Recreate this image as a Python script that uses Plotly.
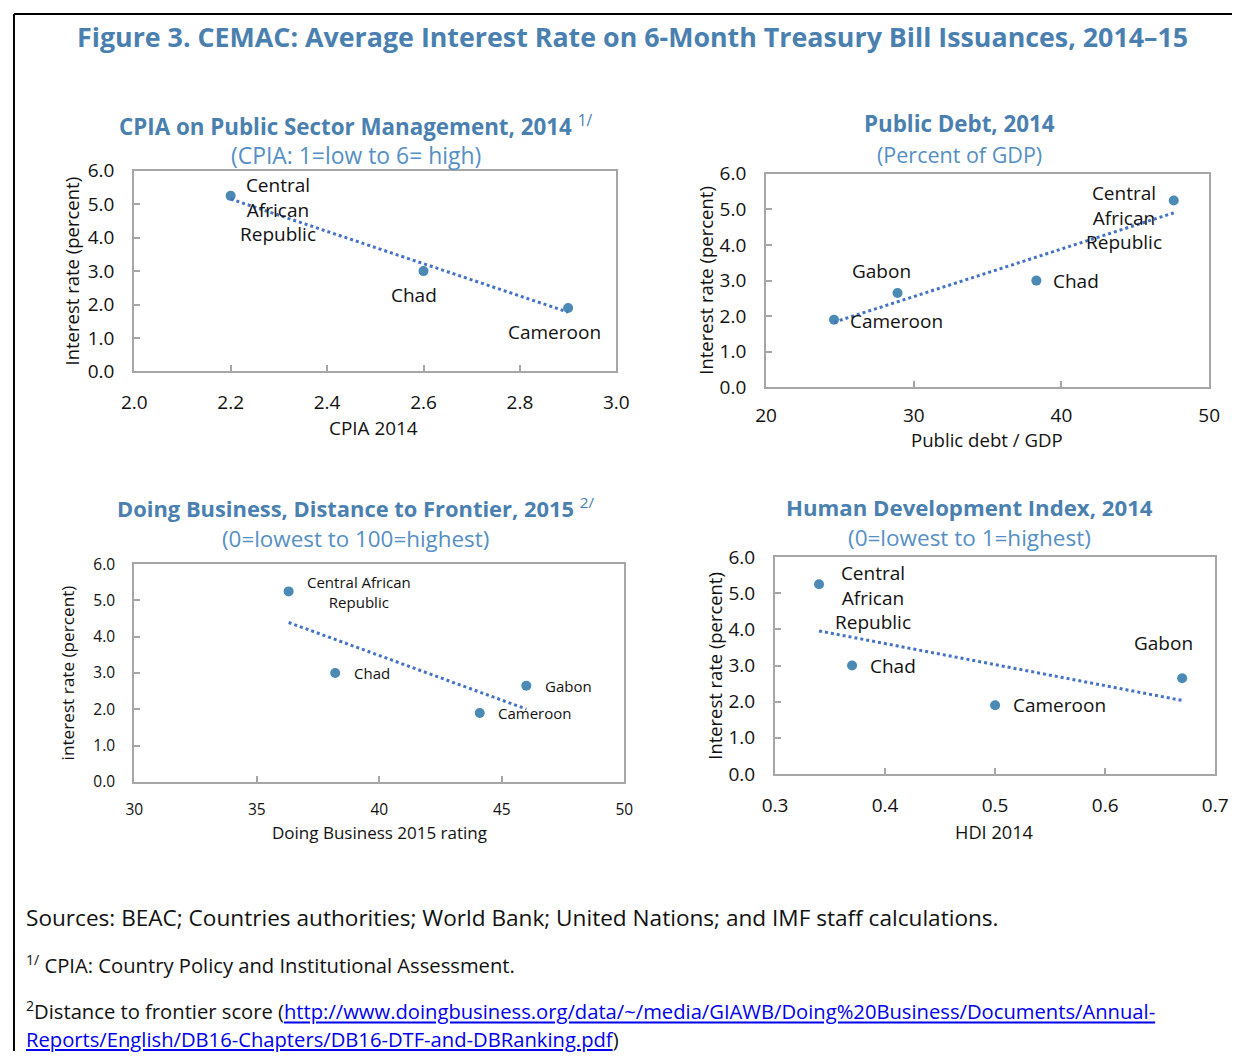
import numpy as np
import plotly.graph_objects as go

W, H = 1245, 1064

# ---------------- data ----------------
cpia_names = ["Central<br>African<br>Republic", "Chad", "Cameroon"]
cpia_x = [2.2, 2.6, 2.9]
cpia_y = [5.25, 3.0, 1.9]

debt_names = ["Cameroon", "Gabon", "Chad", "Central<br>African<br>Republic"]
debt_x = [24.6, 28.9, 38.3, 47.6]
debt_y = [1.9, 2.65, 3.0, 5.25]

db_names = ["Central African<br>Republic", "Chad", "Cameroon", "Gabon"]
db_x = [36.3, 38.2, 44.1, 46.0]
db_y = [5.25, 3.0, 1.9, 2.65]

hdi_names = ["Central<br>African<br>Republic", "Chad", "Cameroon", "Gabon"]
hdi_x = [0.34, 0.37, 0.50, 0.67]
hdi_y = [5.25, 3.0, 1.9, 2.65]

y_ticks = [0.0, 1.0, 2.0, 3.0, 4.0, 5.0, 6.0]
cpia_ticks = [2.0, 2.2, 2.4, 2.6, 2.8, 3.0]
debt_ticks = [20, 30, 40, 50]
db_ticks = [30, 35, 40, 45, 50]
hdi_ticks = [0.3, 0.4, 0.5, 0.6, 0.7]

# ---------------- style ----------------
FONT = "Open Sans"
TITLE_C = "#4a80b0"
SUB_C = "#558fc4"
DOT_C = "#4a8ab5"
TREND_C = "#4472c4"
AX_C = "#a6a6a6"
TXT_C = "#111111"

# layout positions are given in target-picture pixels, converted to figure pixels
SX, OX = 0.981, 11.5
SY, OY = 0.977, 12.0


def px(r):
    return min(max(((r - OX) / SX) / W, 0.0), 1.0)


def py(r):
    return min(max(1 - ((r - OY) / SY) / H, 0.0), 1.0)


def k(v):
    return v / SY


panels = [
    dict(x=cpia_x, y=cpia_y, names=cpia_names, ticks=cpia_ticks, xfmt=".1f",
         box=(133, 616, 170, 371), tickfs=19, labfs=19, xfs=18.9, yfs=18.5, tfs=22.35, sfs=22.9, stand=13,
         title="CPIA on Public Sector Management, 2014", sup=" <sup>1/</sup>", sub="(CPIA: 1=low to 6= high)",
         tpos=(355, 125), spos=(355, 155), xt=("CPIA 2014", 373, 428), yt=("Interest rate (percent)", 70),
         shifts=[(46, -13, "center"), (-9, -23, "center"), (-13, -24, "center")]),
    dict(x=debt_x, y=debt_y, names=debt_names, ticks=debt_ticks, xfmt="d",
         box=(766, 1210, 173, 387), tickfs=19, labfs=19, xfs=18.6, yfs=18.5, tfs=22.35, sfs=21.5, stand=10,
         title="Public Debt, 2014", sup="", sub="(Percent of GDP)",
         tpos=(960, 123), spos=(960, 154), xt=("Public debt / GDP", 987, 439), yt=("Interest rate (percent)", 705),
         shifts=[(14, -1, "left"), (-16, 22, "center"), (14, 0, "left"), (-49, -17, "center")]),
    dict(x=db_x, y=db_y, names=db_names, ticks=db_ticks, xfmt="d",
         box=(133, 624, 564, 782), tickfs=15.5, labfs=15, xfs=17, yfs=17.2, tfs=21.9, sfs=22.4, stand=13,
         title="Doing Business, Distance to Frontier, 2015", sup=" <sup>2/</sup>", sub="(0=lowest to 100=highest)",
         tpos=(355, 507), spos=(355, 538), xt=("Doing Business 2015 rating", 379, 833), yt=("interest rate (percent)", 66),
         shifts=[(69, -1, "center"), (16, 0, "left"), (16, 0, "left"), (16, 0, "left")]),
    dict(x=hdi_x, y=hdi_y, names=hdi_names, ticks=hdi_ticks, xfmt=".1f",
         box=(775, 1216, 557, 774), tickfs=19, labfs=19, xfs=18.2, yfs=18.4, tfs=22.2, sfs=22.5, stand=13,
         title="Human Development Index, 2014", sup="", sub="(0=lowest to 1=highest)",
         tpos=(970, 507), spos=(970, 537), xt=("HDI 2014", 995, 832), yt=("Interest rate (percent)", 714),
         shifts=[(53, -13, "center"), (16, 0, "left"), (16, 0, "left"), (-18, 34, "center")]),
]

fig = go.Figure()
annotations = []
layout_axes = {}

for i, p in enumerate(panels, start=1):
    xa = "x" if i == 1 else f"x{i}"
    ya = "y" if i == 1 else f"y{i}"
    xs = np.array(p["x"], dtype=float)
    ys = np.array(p["y"], dtype=float)
    # points
    fig.add_trace(go.Scatter(x=xs, y=ys, mode="markers", xaxis=xa, yaxis=ya,
                             marker=dict(color=DOT_C, size=10), showlegend=False, hoverinfo="skip"))
    # linear trend line
    kk, bb = np.polyfit(xs, ys, 1)
    tx = np.array([xs.min(), xs.max()])
    fig.add_trace(go.Scatter(x=tx, y=kk * tx + bb, mode="lines", xaxis=xa, yaxis=ya,
                             line=dict(color=TREND_C, width=3, dash="dot"), showlegend=False, hoverinfo="skip"))
    # point labels
    for n, xv, yv, (dx, dy, anc) in zip(p["names"], p["x"], p["y"], p["shifts"]):
        annotations.append(dict(x=xv, y=yv, xref=xa, yref=ya, text=n, showarrow=False,
                                xshift=k(dx), yshift=k(dy), xanchor=anc, yanchor="middle", align="center",
                                font=dict(family=FONT, size=p["labfs"], color=TXT_C)))
    x0, x1, y0, y1 = p["box"]
    axcommon = dict(showgrid=False, zeroline=False, showline=True, mirror=True, linecolor=AX_C,
                    linewidth=2, ticks="inside", ticklen=6, tickcolor=AX_C, tickwidth=1.5,
                    fixedrange=True)
    layout_axes["xaxis" if i == 1 else f"xaxis{i}"] = dict(
        axcommon, domain=[px(x0), px(x1)], anchor=ya, range=[p["ticks"][0], p["ticks"][-1]],
        tickvals=p["ticks"], tickformat=p["xfmt"], ticklabelstandoff=p["stand"],
        tickfont=dict(family=FONT, size=p["tickfs"], color=TXT_C))
    layout_axes["yaxis" if i == 1 else f"yaxis{i}"] = dict(
        axcommon, domain=[py(y1), py(y0)], anchor=xa, range=[0, 6],
        tickvals=y_ticks, tickformat=".1f", ticklabelstandoff=14,
        tickfont=dict(family=FONT, size=p["tickfs"], color=TXT_C))
    # titles
    annotations.append(dict(x=px(p["tpos"][0]), y=py(p["tpos"][1]), xref="paper", yref="paper",
                            text="<b>" + p["title"] + "</b>" + p["sup"], showarrow=False,
                            xanchor="center", yanchor="middle",
                            font=dict(family=FONT, size=p["tfs"], color=TITLE_C)))
    annotations.append(dict(x=px(p["spos"][0]), y=py(p["spos"][1]), xref="paper", yref="paper",
                            text=p["sub"], showarrow=False, xanchor="center", yanchor="middle",
                            font=dict(family=FONT, size=p["sfs"], color=SUB_C)))
    annotations.append(dict(x=px(p["xt"][1]), y=py(p["xt"][2]), xref="paper", yref="paper",
                            text=p["xt"][0], showarrow=False, xanchor="center", yanchor="middle",
                            font=dict(family=FONT, size=p["xfs"], color=TXT_C)))
    annotations.append(dict(x=px(p["yt"][1]), y=py((y0 + y1) / 2), xref="paper", yref="paper",
                            text=p["yt"][0], showarrow=False, xanchor="center", yanchor="middle", textangle=-90,
                            font=dict(family=FONT, size=p["yfs"], color=TXT_C)))

# main title
annotations.append(dict(x=px(632), y=py(36), xref="paper", yref="paper",
                        text="<b>Figure 3. CEMAC: Average Interest Rate on 6-Month Treasury Bill Issuances, 2014–15</b>",
                        showarrow=False, xanchor="center", yanchor="middle",
                        font=dict(family=FONT, size=26.8, color=TITLE_C)))

# footnotes
annotations.append(dict(x=px(23), y=py(918), xref="paper", yref="paper", showarrow=False,
                        xanchor="left", yanchor="middle", font=dict(family=FONT, size=22.6, color=TXT_C),
                        text="Sources: BEAC; Countries authorities; World Bank; United Nations; and IMF staff calculations."))
annotations.append(dict(x=px(23), y=py(965), xref="paper", yref="paper", showarrow=False,
                        xanchor="left", yanchor="middle", font=dict(family=FONT, size=20.2, color=TXT_C),
                        text="<sup>1/</sup> CPIA: Country Policy and Institutional Assessment."))
link = ("<span style='color:#0000ee;text-decoration:underline'>"
        "http://www.doingbusiness.org/data/~/media/GIAWB/Doing%20Business/Documents/Annual-</span>")
link2 = ("<span style='color:#0000ee;text-decoration:underline'>"
         "Reports/English/DB16-Chapters/DB16-DTF-and-DBRanking.pdf</span>")
annotations.append(dict(x=px(23), y=py(1011), xref="paper", yref="paper", showarrow=False,
                        xanchor="left", yanchor="middle", font=dict(family=FONT, size=20.2, color=TXT_C),
                        text="<sup>2</sup>Distance to frontier score (" + link))
annotations.append(dict(x=px(23), y=py(1040), xref="paper", yref="paper", showarrow=False,
                        xanchor="left", yanchor="middle", font=dict(family=FONT, size=20.2, color=TXT_C),
                        text=link2 + ")"))

# outer frame (top and left edges)
bx, by = 1.0 / W, 1 - 1.0 / H
shapes = [
    dict(type="line", xref="paper", yref="paper", x0=bx, x1=1, y0=by, y1=by,
         line=dict(color="black", width=2)),
    dict(type="line", xref="paper", yref="paper", x0=bx, x1=bx, y0=by, y1=0,
         line=dict(color="black", width=2)),
]

fig.update_layout(width=W, height=H, autosize=False, margin=dict(l=0, r=0, t=0, b=0),
                  paper_bgcolor="white", plot_bgcolor="white", showlegend=False,
                  annotations=annotations, shapes=shapes, font=dict(family=FONT), **layout_axes)

fig.write_html("out.html", config={"displayModeBar": False},
               post_script="document.body.style.margin='0';document.body.style.overflow='hidden';")
